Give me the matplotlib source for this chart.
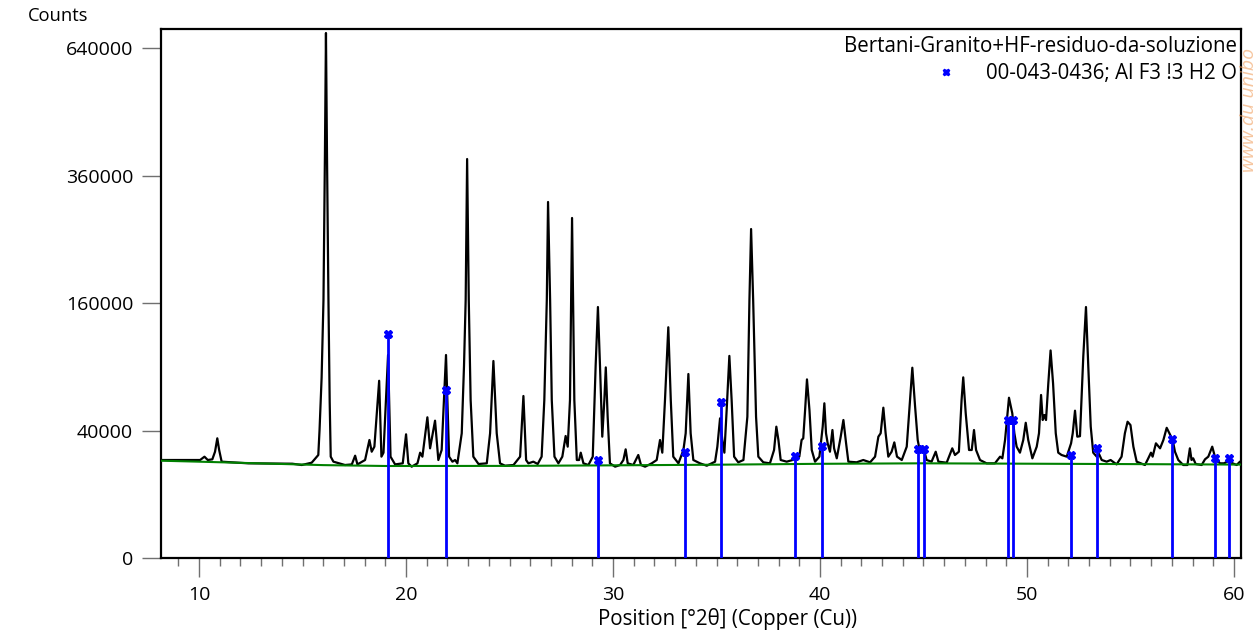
import numpy as np
import matplotlib.pyplot as plt
from matplotlib.ticker import MultipleLocator

plt.rcParams['font.family'] = ['Open Sans', 'DejaVu Sans']

pattern_2theta = [
    8.16, 10.05, 10.26, 10.42, 10.64, 10.77, 10.88, 10.97, 11.09, 12.38,
    14.50, 14.96, 15.44, 15.76, 15.82, 15.92, 16.01, 16.08, 16.13, 16.18,
    16.25, 16.31, 16.36, 16.49, 17.05, 17.38, 17.54, 17.65, 18.02, 18.23,
    18.34, 18.47, 18.70, 18.81, 18.91, 19.13, 19.25, 19.47, 19.84, 20.00,
    20.11, 20.27, 20.55, 20.68, 20.79, 21.03, 21.16, 21.40, 21.56, 21.72,
    21.93, 22.08, 22.24, 22.37, 22.48, 22.69, 22.80, 22.88, 22.95, 23.03,
    23.12, 23.25, 23.50, 23.90, 24.06, 24.22, 24.38, 24.54, 24.78, 25.19,
    25.51, 25.67, 25.80, 25.91, 26.15, 26.36, 26.55, 26.68, 26.80, 26.86,
    26.96, 27.04, 27.17, 27.36, 27.55, 27.71, 27.81, 27.92, 28.02, 28.13,
    28.25, 28.36, 28.44, 28.57, 28.81, 29.02, 29.16, 29.27, 29.37, 29.48,
    29.58, 29.65, 29.74, 29.85, 30.10, 30.34, 30.50, 30.61, 30.71, 30.98,
    31.22, 31.35, 31.55, 31.87, 32.11, 32.27, 32.38, 32.51, 32.67, 32.79,
    32.91, 33.16, 33.40, 33.51, 33.64, 33.75, 33.88, 34.20, 34.53, 34.93,
    35.04, 35.17, 35.28, 35.38, 35.49, 35.62, 35.73, 35.85, 36.05, 36.30,
    36.49, 36.59, 36.67, 36.77, 36.91, 37.02, 37.26, 37.58, 37.78, 37.89,
    37.99, 38.10, 38.39, 38.79, 39.00, 39.11, 39.19, 39.28, 39.37, 39.49,
    39.60, 39.76, 39.97, 40.13, 40.21, 40.29, 40.37, 40.48, 40.60, 40.68,
    40.81, 41.00, 41.13, 41.26, 41.37, 41.77, 42.09, 42.42, 42.66, 42.82,
    42.93, 43.06, 43.17, 43.30, 43.46, 43.59, 43.72, 43.95, 44.19, 44.35,
    44.46, 44.59, 44.72, 44.83, 44.99, 45.15, 45.39, 45.59, 45.72, 46.12,
    46.39, 46.52, 46.71, 46.84, 46.92, 47.04, 47.20, 47.33, 47.44, 47.54,
    47.73, 48.05, 48.45, 48.70, 48.81, 48.94, 49.13, 49.29, 49.39, 49.50,
    49.66, 49.82, 49.94, 50.06, 50.26, 50.47, 50.58, 50.68, 50.76, 50.84,
    50.92, 51.03, 51.14, 51.26, 51.39, 51.51, 51.67, 51.92, 52.13, 52.21,
    52.32, 52.43, 52.56, 52.72, 52.85, 52.96, 53.08, 53.20, 53.37, 53.48,
    53.61, 53.85, 54.04, 54.33, 54.57, 54.73, 54.86, 55.00, 55.14, 55.30,
    55.70, 55.86, 55.99, 56.07, 56.23, 56.43, 56.59, 56.75, 56.88, 57.04,
    57.15, 57.31, 57.55, 57.75, 57.87, 57.95, 58.03, 58.15, 58.44, 58.60,
    58.76, 58.95, 59.08, 59.32, 59.52, 59.73, 59.94, 60.13, 60.29, 60.34,
]
pattern_counts = [
    23630, 23630, 25250, 23630, 23960, 27800, 35250, 28700, 22830, 22050,
    21880, 21280, 22350, 26110, 40310, 80000, 163800, 400000, 678200, 400000,
    163800, 60000, 25270, 22830, 21280, 21560, 25760, 21560, 23630, 34260,
    27800, 30500, 77300, 25270, 27300, 101400, 25270, 21560, 22050, 37650,
    22050, 20520, 22050, 27300, 25270, 48710, 29600, 46400, 23630, 28700,
    101400, 25270, 22830, 23630, 22050, 38280, 91050, 163800, 391700, 163800,
    61430, 25270, 21740, 22050, 38280, 95500, 38280, 22050, 20960, 21280,
    25270, 64580, 23630, 22050, 22830, 21740, 25270, 61430, 163800, 311900,
    163800, 61430, 25270, 22050, 25270, 36630, 30500, 61430, 284500, 61430,
    23630, 23630, 27300, 22050, 21280, 25270, 91050, 155000, 91050, 36220,
    61430, 89400, 49100, 22050, 20520, 21280, 23630, 29050, 22050, 21280,
    26110, 21280, 20520, 22050, 23630, 34260, 27300, 61430, 131000, 61430,
    25270, 22050, 28700, 38280, 83310, 38280, 23630, 22050, 20960, 22830,
    30500, 48000, 34260, 27300, 53900, 100500, 61430, 25270, 22530, 23630,
    49100, 163800, 266300, 163800, 49100, 25270, 22530, 22050, 28700, 42440,
    34260, 23630, 22830, 23960, 25270, 34260, 35250, 53900, 78500, 53900,
    28700, 22830, 25270, 42440, 58900, 38280, 32360, 27800, 40310, 29600,
    24440, 36220, 46860, 32360, 22830, 22530, 23630, 22530, 25270, 36220,
    38280, 55600, 38280, 25270, 27800, 32900, 25270, 23630, 30500, 61430,
    89100, 57200, 34260, 27800, 30500, 23630, 22830, 27800, 22830, 22350,
    29600, 26110, 27800, 61430, 80300, 51500, 28700, 28700, 40310, 28700,
    23630, 22050, 22050, 25270, 24440, 34260, 63200, 51500, 38280, 30500,
    27300, 34260, 45000, 34260, 24440, 30500, 38280, 65400, 46860, 50300,
    46860, 75000, 106000, 75000, 38280, 27300, 26110, 25270, 32360, 38280,
    53400, 36220, 36500, 100000, 155000, 91050, 42440, 27300, 25270, 26610,
    23630, 22830, 23630, 21560, 25270, 38280, 45700, 43480, 30500, 22830,
    21280, 24440, 27300, 25270, 32360, 29600, 34260, 41700, 38280, 34260,
    27800, 23630, 21280, 21280, 29600, 23630, 24440, 21740, 21280, 23960,
    25270, 30500, 25270, 22050, 22050, 23150, 22050, 21280, 22830, 22500,
]

# fitted background
background_2theta = [8.16, 10, 13, 16, 19, 25, 30, 35, 40, 45, 50, 55, 60.34]
background_counts = [23290, 22830, 22020, 21230, 20830, 20870, 21130, 21420,
                     21830, 22060, 21880, 21700, 21470]

# reference pattern 00-043-0436
stick_2theta = [19.15, 21.93, 29.26, 33.46, 35.20, 38.81, 40.08, 44.72, 45.02,
                49.07, 49.32, 52.12, 53.38, 56.99, 59.10, 59.74]
stick_counts = [123500, 69440, 23780, 27490, 60120, 25760, 30870, 29070, 29070,
                46660, 46660, 26100, 29930, 35030, 24760, 24760]

y_ticks = [0, 40000, 160000, 360000, 640000]
x_ticks = [10, 20, 30, 40, 50, 60]
scan_name = "Bertani-Granito+HF-residuo-da-soluzione"
ref_name = "00-043-0436; Al F3 !3 H2 O"

W, H = 1258, 633
fig = plt.figure(figsize=(W / 100, H / 100), dpi=100)
ax = fig.add_axes([161 / W, 75 / H, 1080 / W, 529 / H])
ax.set_yscale('function', functions=(lambda v: np.sqrt(np.clip(v, 0, None)),
                                     lambda v: np.square(v)))

ax.plot(pattern_2theta, pattern_counts, color='black', lw=1.6, zorder=2)
ax.plot(background_2theta, background_counts, color='#008000', lw=1.5, zorder=3)
ax.vlines(stick_2theta, 0, stick_counts, color='#0000ff', lw=2, zorder=4)
ax.plot(stick_2theta, stick_counts, ls='none', marker='X', ms=6,
        color='#0000ff', zorder=5)

ax.set_xlim(8.16, 60.34)
ax.set_ylim(0, 688600)
ax.set_yticks(y_ticks)
ax.set_yticklabels([str(v) for v in y_ticks])
ax.set_xticks(x_ticks)
ax.xaxis.set_minor_locator(MultipleLocator(1))
ax.yaxis.set_minor_locator(plt.NullLocator())

ax.tick_params(axis='both', which='major', direction='out', length=14,
               width=1, color='#707070', labelsize=14, pad=6)
ax.tick_params(axis='x', which='minor', direction='out', length=6,
               width=1, color='#707070')
for s in ax.spines.values():
    s.set_linewidth(1.6)
    s.set_color('black')

fig.text(28 / W, 1 - 16 / H, 'Counts', ha='left', va='center', fontsize=13.2)
fig.text(728 / W, 1 - 619 / H, 'Position [°2θ] (Copper (Cu))', ha='center',
         va='center', fontsize=14.8)

# legend drawn as plain text, right aligned
fig.text(1237 / W, 1 - 47 / H, scan_name, ha='right', va='center', fontsize=14.8)
fig.text(1237 / W, 1 - 73 / H, ref_name, ha='right', va='center', fontsize=14.8)
ax.plot([(946 - 161) / 1080], [(558 - 72) / 529], transform=ax.transAxes,
        marker='X', ms=5, color='#0000ff', ls='none', clip_on=False)

# watermark at the right edge
fig.text(1249 / W, 1 - 110 / H, 'www.du unibo', rotation=90, ha='center',
         va='center', fontsize=14, color='#f0a060', alpha=0.6, style='italic')

fig.savefig('out.png', dpi=100)
